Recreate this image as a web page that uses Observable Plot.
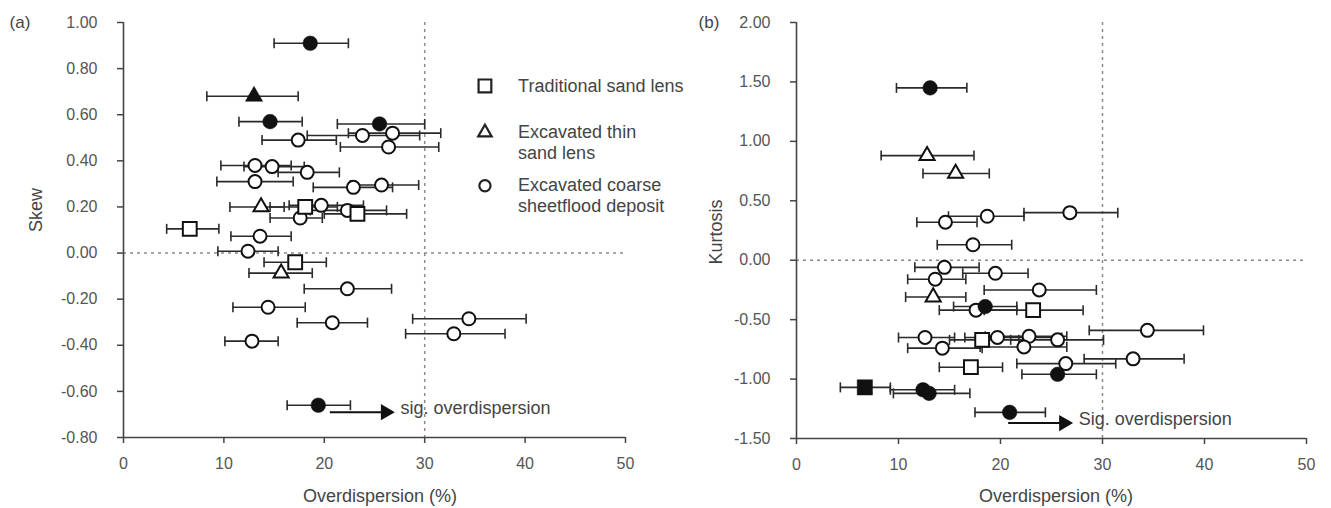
<!DOCTYPE html>
<html><head><meta charset="utf-8">
<script src="https://cdn.jsdelivr.net/npm/d3@7"></script>
<script src="https://cdn.jsdelivr.net/npm/@observablehq/plot@0.6"></script>
<style>
body{margin:0;background:#fff;font-family:"Liberation Sans",Arial,sans-serif;}
#wrap{position:relative;width:1331px;height:508px;overflow:hidden;background:#fff;}
.panel{position:absolute;top:0;}
.lbl{position:absolute;font-size:18px;color:#444;white-space:nowrap;line-height:1;}
</style></head><body>
<div id="wrap"></div>
<script>
// ---------- Panel (a): Skew vs overdispersion ----------
const aShape  = ["circle","triangle","circle","circle","circle","circle","circle","circle","circle","circle","circle","circle","circle","circle","triangle","square","circle","circle","square","circle","square","circle","circle","square","triangle","circle","circle","circle","circle","circle","circle","circle"];
const aFilled = [1,1,1,1,0,0,0,0,0,0,0,0,0,0,0,0,0,0,0,0,0,0,0,0,0,0,0,0,0,0,0,1];
const aOD     = [18.6,13.0,14.6,25.5,17.4,23.8,26.8,26.4,13.1,14.8,18.3,13.1,22.9,25.7,13.7,18.1,19.7,22.3,23.3,17.6,6.6,13.6,12.4,17.1,15.7,22.3,14.4,20.8,12.8,34.4,32.9,19.4];
const aLo     = [15.0,8.3,11.5,21.3,13.8,18.3,22.4,21.6,9.7,12.0,15.4,9.3,18.9,22.6,10.6,14.6,16.5,18.6,20.0,14.6,4.3,10.7,9.4,14.0,12.5,18.0,10.9,17.3,10.1,28.8,28.1,16.3];
const aHi     = [22.4,17.4,17.8,30.0,21.2,29.5,31.6,31.4,16.7,18.0,21.5,16.9,26.8,29.4,16.0,21.3,23.9,26.2,28.2,19.8,9.5,16.7,15.4,20.2,18.8,26.7,18.1,24.3,15.4,40.1,38.0,22.6];
const aSkew   = [0.91,0.68,0.57,0.56,0.49,0.51,0.52,0.46,0.38,0.375,0.35,0.31,0.285,0.295,0.20,0.20,0.207,0.185,0.17,0.152,0.105,0.073,0.008,-0.04,-0.087,-0.155,-0.235,-0.302,-0.382,-0.285,-0.35,-0.66];

// ---------- Panel (b): Kurtosis vs overdispersion ----------
const bShape  = ["circle","triangle","triangle","circle","circle","circle","circle","circle","circle","circle","circle","triangle","circle","circle","square","circle","square","circle","circle","circle","circle","circle","circle","circle","circle","circle","square","square","circle","circle","circle"];
const bFilled = [1,0,0,0,0,0,0,0,0,0,0,0,1,0,0,0,0,0,0,0,0,0,0,0,0,1,0,1,1,1,1];
const bOD     = [13.1,12.8,15.6,18.7,26.8,14.6,17.3,14.5,19.5,13.6,23.8,13.4,18.5,17.6,23.2,12.6,18.2,19.7,22.8,25.6,14.3,22.3,34.4,26.4,33.0,25.6,17.1,6.7,12.4,13.0,20.9];
const bLo     = [9.8,8.3,12.4,14.9,22.3,11.8,13.8,11.6,16.3,10.9,18.4,10.7,15.4,14.0,18.4,10.0,15.0,16.5,18.5,21.0,10.9,18.0,28.7,21.6,28.2,22.1,14.0,4.3,9.2,9.5,17.5];
const bHi     = [16.7,17.4,18.9,22.3,31.5,17.7,21.1,17.9,22.7,16.6,29.4,16.6,21.6,21.6,28.1,15.5,21.8,26.0,26.5,30.1,18.2,26.5,39.9,31.3,38.0,29.4,20.2,9.2,15.5,17.0,24.4];
const bKurt   = [1.45,0.88,0.73,0.37,0.40,0.32,0.13,-0.06,-0.11,-0.16,-0.25,-0.31,-0.39,-0.42,-0.42,-0.65,-0.67,-0.65,-0.64,-0.67,-0.74,-0.73,-0.59,-0.87,-0.83,-0.96,-0.90,-1.07,-1.09,-1.12,-1.28];

// ---------- axes / ticks ----------
const xTicks  = [0,10,20,30,40,50];
const aYTicks = [-0.8,-0.6,-0.4,-0.2,0,0.2,0.4,0.6,0.8,1.0];
const bYTicks = [-1.5,-1.0,-0.5,0,0.5,1.0,1.5,2.0];
const threshold = [30];

// ---------- legend & annotation text ----------
const legendShape = ["square","triangle","circle"];
const legendLine1 = ["Traditional sand lens","Excavated thin","Excavated coarse"];
const legendLine2 = ["","sand lens","sheetflood deposit"];
const arrowA = {x1:20.6, x2:26.3, y:-0.69, text:"sig. overdispersion"};
const arrowB = {x1:20.8, x2:26.4, y:-1.37, text:"Sig. overdispersion"};

const rows = (shape, filled, od, lo, hi, v) =>
  shape.map((s,i)=>({shape:s, filled:!!filled[i], x:od[i], lo:lo[i], hi:hi[i], y:v[i]}));
const aData = rows(aShape,aFilled,aOD,aLo,aHi,aSkew);
const bData = rows(bShape,bFilled,bOD,bLo,bHi,bKurt);

const capSymbol = {draw(ctx,size){const r=Math.sqrt(size/Math.PI);ctx.moveTo(0,-r);ctx.lineTo(0,r);}};
const fmt = d => d.toFixed(2);
const rSize = {circle:6.5, square:7.8, triangle:5.6};
const INK = "#2a2a2a";
const FONT = '"Liberation Sans", Arial, sans-serif';

function markerMarks(data){
  const out = [];
  for (const s of ["circle","square","triangle"]) {
    for (const f of [false,true]) {
      out.push(Plot.dot(data, {filter:d=>d.shape===s && d.filled===f, x:"x", y:"y", symbol:s,
        r: f ? rSize[s]+0.8 : rSize[s], fill: f ? "#111" : "white", stroke: "#111", strokeWidth: f ? 0.5 : 2}));
    }
  }
  return out;
}

function panel(data, yDomain, yTicks, dims, arrow, extra){
  return Plot.plot({
    width: dims.width, height: 508,
    marginLeft: dims.ml, marginRight: dims.mr, marginTop: dims.mt, marginBottom: dims.mb,
    style:{fontFamily:FONT, fontSize:"16px", color:"#444", background:"transparent", overflow:"visible"},
    x:{domain:[0,50]},
    y:{domain:yDomain},
    marks:[
      Plot.ruleX(threshold, {stroke:"#8a8a8a", strokeWidth:1.5, strokeDasharray:"3,4"}),
      Plot.ruleY([0], {stroke:"#8a8a8a", strokeWidth:1.5, strokeDasharray:"3,4"}),
      Plot.axisY({ticks:yTicks, tickFormat:fmt, tickSize:6, tickPadding:20, label:null, stroke:"#444", strokeWidth:1.5, fill:"#555"}),
      Plot.axisX({ticks:xTicks, tickSize:6, tickPadding:14, label:null, stroke:"#444", strokeWidth:1.5, fill:"#555"}),
      Plot.ruleX([0], {stroke:"#444", strokeWidth:1.6}),
      Plot.ruleY([yDomain[0]], {stroke:"#444", strokeWidth:1.6}),
      Plot.ruleY(data, {y:"y", x1:"lo", x2:"hi", stroke:INK, strokeWidth:1.6}),
      Plot.dot(data, {x:"lo", y:"y", symbol:capSymbol, r:5, stroke:INK, strokeWidth:1.6, fill:"none"}),
      Plot.dot(data, {x:"hi", y:"y", symbol:capSymbol, r:5, stroke:INK, strokeWidth:1.6, fill:"none"}),
      ...markerMarks(data),
      Plot.ruleY([arrow], {x1:"x1", x2:"x2", y:"y", stroke:"#111", strokeWidth:2}),
      Plot.dot([arrow], {x:"x2", y:"y", symbol:"triangle", rotate:90, r:6, fill:"#111", stroke:"none", dx:-2}),
      Plot.text([arrow], {x:"x2", y:"y", text:"text", textAnchor:"start", dx:13, dy:-4, fill:"#444", fontSize:18}),
      ...(extra||[])
    ]
  });
}

const legendRows = legendShape.map((s,i)=>({shape:s, l1:legendLine1[i], l2:legendLine2[i], k:i}));
const legY = [0.725, 0.523, 0.292];
const legR = {square:7.2, triangle:5.0, circle:5.6};
const legendMarks = [
  ...legendShape.map(s => Plot.dot(legendRows, {filter:d=>d.shape===s, x:()=>36.0, y:d=>legY[d.k], symbol:s, r:legR[s], fill:"white", stroke:"#222", strokeWidth:2.2})),
  Plot.text(legendRows, {x:()=>39.3, y:d=>legY[d.k], text:"l1", textAnchor:"start", fill:"#444", fontSize:18}),
  Plot.text(legendRows, {x:()=>39.3, y:d=>legY[d.k], text:"l2", textAnchor:"start", dy:21, fill:"#444", fontSize:18})
];

const wrap = document.getElementById("wrap");
const pa = panel(aData, [-0.8,1.0], aYTicks, {width:665, ml:123, mr:40, mt:22, mb:71}, arrowA, legendMarks);
pa.classList.add("panel"); pa.style.left = "0px";
const pb = panel(bData, [-1.5,2.0], bYTicks, {width:666, ml:131, mr:25, mt:22, mb:70}, arrowB);
pb.classList.add("panel"); pb.style.left = "665px";
wrap.appendChild(pb); wrap.appendChild(pa);

function label(text, left, top, rotate, size){
  const d = document.createElement("div");
  d.className = "lbl"; d.textContent = text;
  if (size) d.style.fontSize = size + "px";
  d.style.left = left + "px"; d.style.top = top + "px";
  d.style.transform = rotate ? "translate(-50%,-50%) rotate(-90deg)" : "translate(-50%,-50%)";
  wrap.appendChild(d);
}
label("(a)", 20, 22, false, 17);
label("(b)", 709, 22, false, 17);
label("Skew", 36, 210, true);
label("Kurtosis", 716, 232, true);
label("Overdispersion (%)", 380, 496);
label("Overdispersion (%)", 1056, 496);
</script>
</body></html>
